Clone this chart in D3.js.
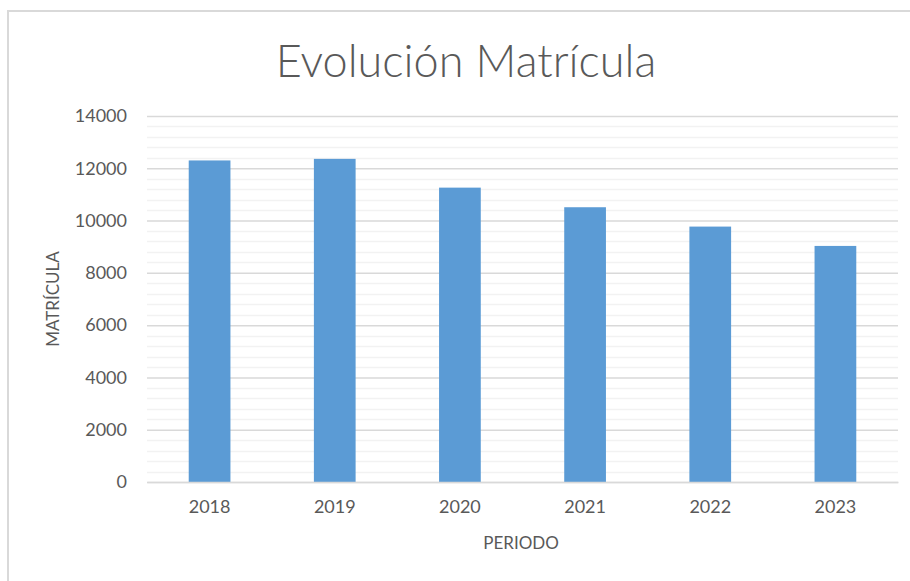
<!DOCTYPE html>
<html>
<head>
<meta charset="utf-8">
<script src="https://cdn.jsdelivr.net/npm/d3@7"></script>
<style>
  html, body { margin: 0; padding: 0; background: #fff; }
  svg { display: block; font-family: Lato, "Open Sans", sans-serif; }
</style>
</head>
<body>
<div id="chart"></div>
<script>
// Chart data
const years = ['2018', '2019', '2020', '2021', '2022', '2023'];
const matricula = [12300, 12360, 11260, 10510, 9770, 9030];
const majorTicks = [0, 2000, 4000, 6000, 8000, 10000, 12000, 14000];
const minorStep = 400;

const width = 910, height = 581;
const margin = {top: 116, right: 12, bottom: 99, left: 147};
const fontFamily = 'Lato, "Open Sans", sans-serif';

const svg = d3.select('#chart')
    .append('svg')
    .attr('width', width)
    .attr('height', height);

// Chart area border (runs off the right and bottom edges)
svg.append('rect')
    .attr('x', 8)
    .attr('y', 11)
    .attr('width', width + 20)
    .attr('height', height + 20)
    .attr('fill', '#fff')
    .attr('stroke', '#d9d9d9')
    .attr('stroke-width', 2);

const x = d3.scaleBand()
    .domain(years)
    .range([margin.left, width - margin.right])
    .paddingInner(2 / 3)
    .paddingOuter(1 / 3);

const y = d3.scaleLinear()
    .domain([0, 14000])
    .range([height - margin.bottom, margin.top]);

// Minor gridlines
const minorTicks = d3.range(0, 14000 + 1, minorStep).filter(v => v % 2000 !== 0);
svg.append('g')
    .selectAll('line')
    .data(minorTicks)
    .enter()
    .append('line')
    .attr('x1', margin.left)
    .attr('x2', width - margin.right)
    .attr('y1', d => Math.round(y(d)) + 0.5)
    .attr('y2', d => Math.round(y(d)) + 0.5)
    .attr('stroke', '#f2f2f2')
    .attr('stroke-width', 1.5);

// Major gridlines + y labels via axis
const yAxis = svg.append('g')
    .attr('transform', `translate(${margin.left},0)`)
    .call(d3.axisLeft(y)
        .tickValues(majorTicks)
        .tickFormat(d3.format('d'))
        .tickSize(-(width - margin.left - margin.right))
        .tickPadding(20));

yAxis.attr('font-family', fontFamily);
yAxis.select('.domain').remove();
yAxis.selectAll('.tick line')
    .attr('stroke', '#d9d9d9')
    .attr('stroke-width', 1.5);
yAxis.selectAll('.tick text')
    .attr('fill', '#595959')
    .style('font-size', '18px');

// Bars
svg.append('g')
    .selectAll('rect')
    .data(matricula)
    .enter()
    .append('rect')
    .attr('x', (d, i) => x(years[i]))
    .attr('width', x.bandwidth())
    .attr('y', d => y(d))
    .attr('height', d => y(0) - y(d))
    .attr('fill', '#5b9bd5');

// x axis
const xAxis = svg.append('g')
    .attr('transform', `translate(0,${y(0)})`)
    .call(d3.axisBottom(x).tickSize(0).tickPadding(18));

xAxis.attr('font-family', fontFamily);
xAxis.select('.domain')
    .attr('stroke', '#d9d9d9')
    .attr('stroke-width', 1.5);
xAxis.selectAll('.tick text')
    .attr('fill', '#595959')
    .style('font-size', '18px');

// Title
svg.append('text')
    .attr('x', 466)
    .attr('y', 77)
    .attr('text-anchor', 'middle')
    .attr('fill', '#595959')
    .style('font-size', '45px')
    .style('font-weight', 300)
    .text('Evolución Matrícula');

// Axis titles
svg.append('text')
    .attr('x', 521)
    .attr('y', 549)
    .attr('text-anchor', 'middle')
    .attr('fill', '#595959')
    .style('font-size', '17px')
    .text('PERIODO');

svg.append('text')
    .attr('transform', 'translate(59,299) rotate(-90)')
    .attr('text-anchor', 'middle')
    .attr('fill', '#595959')
    .style('font-size', '17px')
    .text('MATRÍCULA');
</script>
</body>
</html>
